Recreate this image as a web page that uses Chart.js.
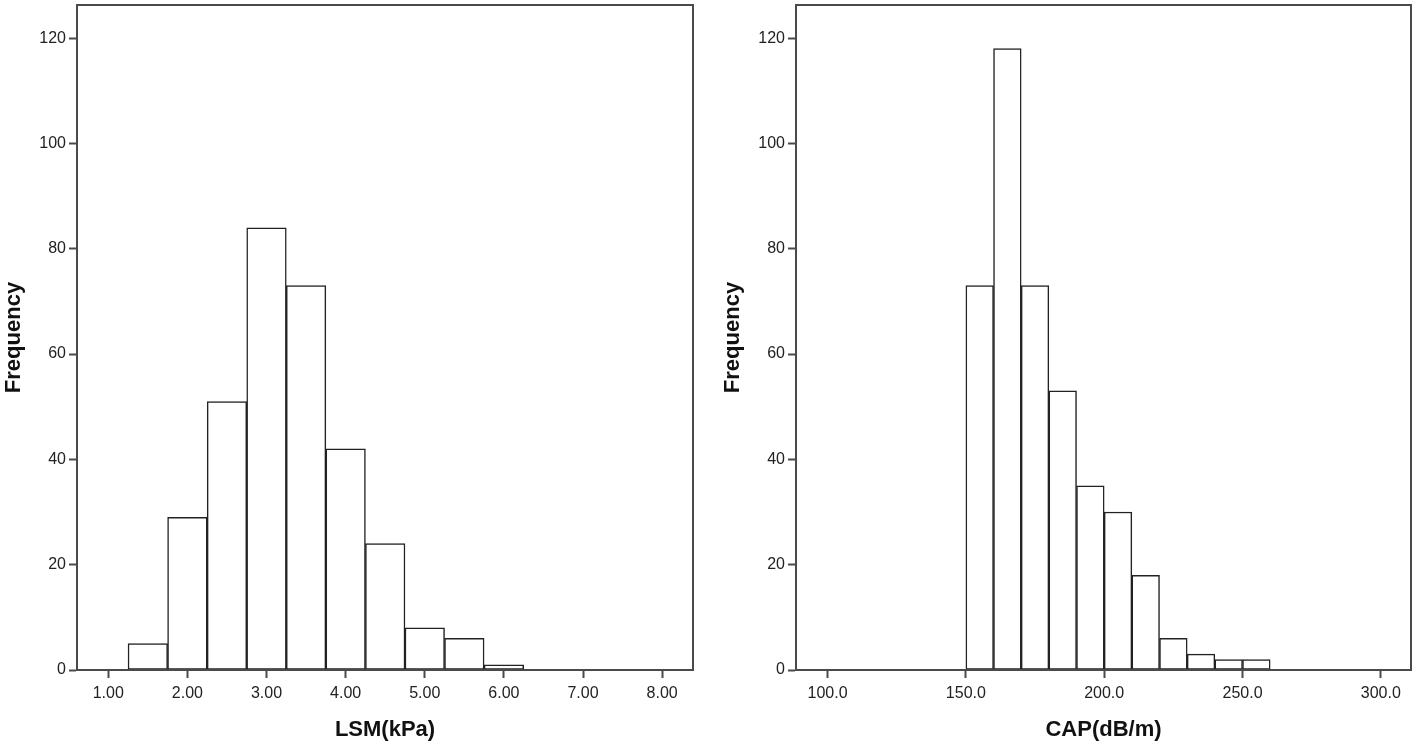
<!DOCTYPE html>
<html>
<head>
<meta charset="utf-8">
<script src="https://cdn.jsdelivr.net/npm/chart.js@4.4.1/dist/chart.umd.min.js"></script>
<style>
  body { margin: 0; background: #fff; }
  .panel { position: absolute; top: 0; width: 709px; height: 744px; }
</style>
</head>
<body>
<div class="panel" style="left:0"><canvas id="lsmChart" width="709" height="744"></canvas></div>
<div class="panel" style="left:709px"><canvas id="capChart" width="709" height="744"></canvas></div>
<script>
// LSM histogram (bin width 0.5)
var lsmBins = [1.5, 2.0, 2.5, 3.0, 3.5, 4.0, 4.5, 5.0, 5.5, 6.0];
var lsmFreq = [5, 29, 51, 84, 73, 42, 24, 8, 6, 1];
var lsmTicks = [1, 2, 3, 4, 5, 6, 7, 8];

// CAP histogram (bin width 10)
var capBins = [155, 165, 175, 185, 195, 205, 215, 225, 235, 245, 255];
var capFreq = [73, 118, 73, 53, 35, 30, 18, 6, 3, 2, 2];
var capTicks = [100, 150, 200, 250, 300];

var freqTicks = [0, 20, 40, 60, 80, 100, 120];

var axisColor = '#4a4a4a';
var textColor = '#222';

// draws the frame round the plot area
var boxPlugin = {
  id: 'box',
  afterDraw: function (chart) {
    var a = chart.chartArea;
    var ctx = chart.ctx;
    ctx.save();
    ctx.strokeStyle = axisColor;
    ctx.lineWidth = 2;
    ctx.strokeRect(a.left, a.top, a.right - a.left, a.bottom - a.top);
    ctx.restore();
  }
};

function makeHist(id, bins, freq, xTicks, xMin, xMax, digits, xTitle, pad) {
  var points = [];
  for (var i = 0; i < bins.length; i++) {
    points.push({ x: bins[i], y: freq[i] });
  }
  return new Chart(document.getElementById(id), {
    type: 'bar',
    data: {
      datasets: [{
        data: points,
        backgroundColor: '#fff',
        borderColor: '#222',
        borderWidth: 1.5,
        borderSkipped: false,
        barPercentage: 1,
        categoryPercentage: 1
      }]
    },
    options: {
      responsive: false,
      animation: false,
      devicePixelRatio: 1,
      layout: { padding: pad },
      plugins: { legend: { display: false }, tooltip: { enabled: false } },
      scales: {
        x: {
          type: 'linear',
          min: xMin,
          max: xMax,
          offset: false,
          afterBuildTicks: function (axis) {
            axis.ticks = xTicks.map(function (v) { return { value: v }; });
          },
          afterFit: function (axis) {
            axis.height = 74;
            axis.paddingLeft = 0;
            axis.paddingRight = 0;
          },
          ticks: {
            color: textColor,
            font: { family: 'Liberation Sans, Arial', size: 16 },
            padding: 6,
            maxRotation: 0,
            callback: function (v) { return Number(v).toFixed(digits); }
          },
          grid: { offset: false, drawOnChartArea: false, tickLength: 8, tickWidth: 2, tickColor: axisColor },
          border: { color: axisColor, width: 2 },
          title: {
            display: true,
            text: xTitle,
            color: '#111',
            font: { family: 'Liberation Sans, Arial', size: 22, weight: 'bold' },
            padding: { top: 0, bottom: 1 }
          }
        },
        y: {
          min: 0,
          max: 126.3,
          afterBuildTicks: function (axis) {
            axis.ticks = freqTicks.map(function (v) { return { value: v }; });
          },
          afterFit: function (axis) {
            axis.width = 77;
            axis.paddingTop = 0;
            axis.paddingBottom = 0;
          },
          ticks: {
            color: textColor,
            font: { family: 'Liberation Sans, Arial', size: 16 },
            padding: 3
          },
          grid: { drawOnChartArea: false, tickLength: 8, tickWidth: 2, tickColor: axisColor },
          border: { color: axisColor, width: 2 },
          title: {
            display: true,
            text: 'Frequency',
            color: '#111',
            font: { family: 'Liberation Sans, Arial', size: 22, weight: 'bold' },
            padding: { top: 1, bottom: 0 }
          }
        }
      }
    },
    plugins: [boxPlugin]
  });
}

makeHist('lsmChart', lsmBins, lsmFreq, lsmTicks, 0.605, 8.39, 2, 'LSM(kPa)',
  { left: 0, right: 16, top: 5, bottom: 0 });
makeHist('capChart', capBins, capFreq, capTicks, 88.6, 310.9, 1, 'CAP(dB/m)',
  { left: 10, right: 7, top: 5, bottom: 0 });
</script>
</body>
</html>
